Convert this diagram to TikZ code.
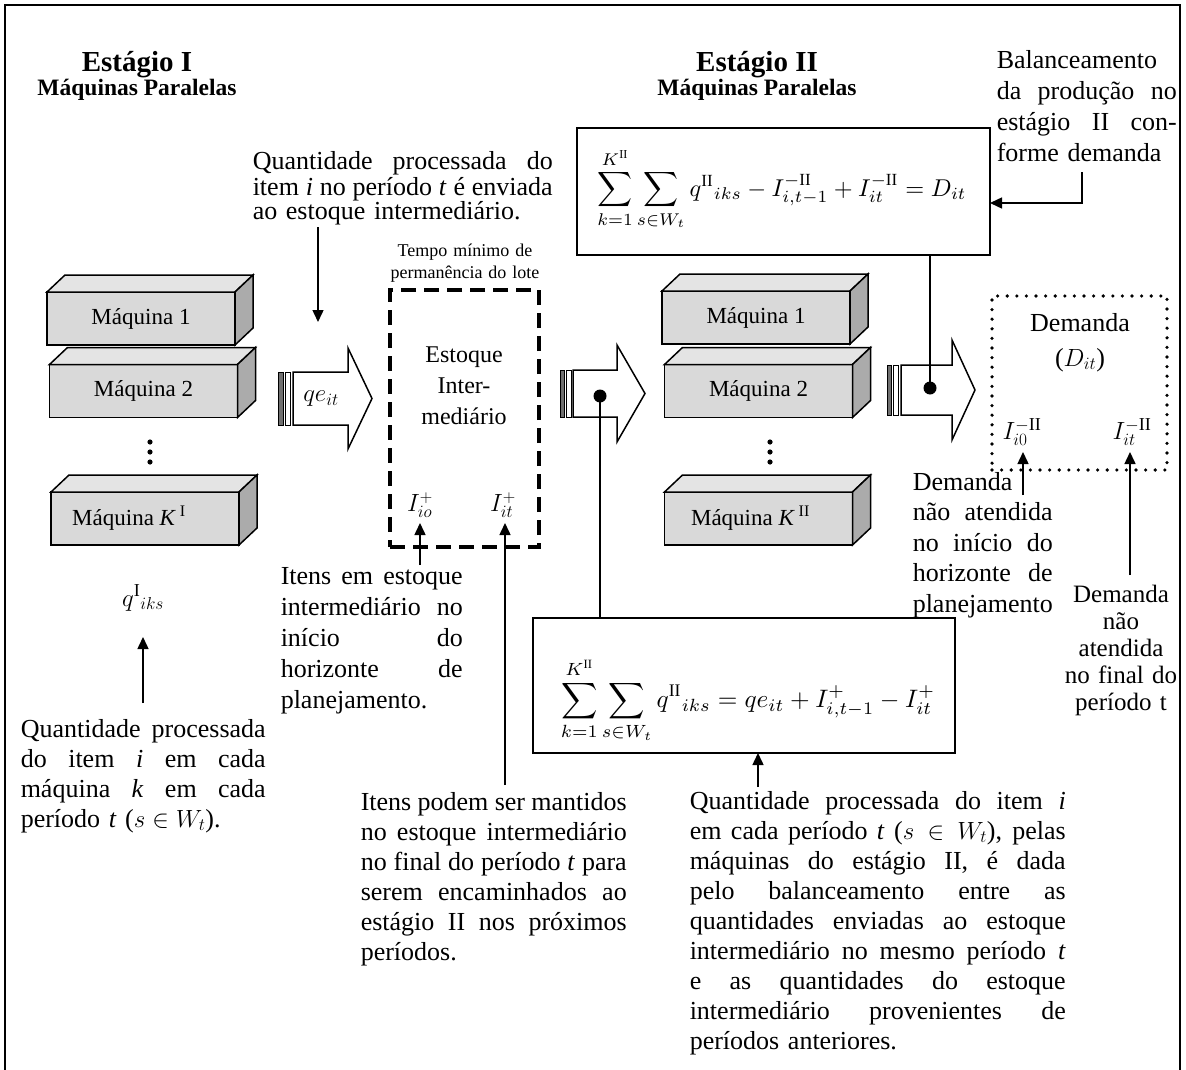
\documentclass[tikz,border=0pt]{standalone}
\usepackage{fontspec}
\setmainfont{Liberation Serif}
\usetikzlibrary{arrows.meta,calc}
\definecolor{frontgray}{HTML}{D9D9D9}
\definecolor{topgray}{HTML}{E4E4E4}
\definecolor{sidegray}{HTML}{ABABAB}
\definecolor{bargray}{HTML}{707070}
% font size with fixed line pitch
\newcommand{\fs}[2]{\fontsize{#1}{#2}\selectfont\lineskiplimit=-50pt\relax}
% one justified line of a paragraph (interword glue of the font, stretched)
\newcommand{\jl}[1]{\makebox[\linewidth][s]{\spaceskip=0pt\xspaceskip=0pt\relax #1}\\}
% top and side faces of a machine block
\newcommand{\machinefaces}[1]{%
  \filldraw[fill=topgray] (#1.north west) -- ++(18,-17) -- ([shift={(18,-17)}]#1.north east) -- (#1.north east) -- cycle;
  \filldraw[fill=sidegray] (#1.north east) -- ++(18,-17) -- ([shift={(18,-17)}]#1.south east) -- (#1.south east) -- cycle;}
\begin{document}
\begin{tikzpicture}[x=1pt,y=-1pt,line width=1.5pt,
  machine/.style={draw,fill=frontgray,minimum width=188pt,minimum height=53pt,inner sep=0pt,outer sep=0pt,font=\fs{23}{27}},
  para/.style={inner sep=0pt,anchor=base west,align=left,font=\fs{26}{30}},
  ctext/.style={inner sep=0pt,anchor=base,align=center},
  mlabel/.style={inner sep=0pt,font=\fs{26}{30}},
  conn/.style={-{Triangle[length=12pt,width=11pt]}},
  dotnode/.style={circle,fill=black,inner sep=0pt,minimum size=13pt},
  eqbox/.style={draw,inner sep=0pt,outer sep=0pt},
  bar/.style={line width=1pt}]
\useasboundingbox (0,0) rectangle (1186,1070);
\fill[white] (0,0) rectangle (1186,1070);
% outer frame
\draw (5,1080) -- (5,5) -- (1180,5) -- (1180,1080);

% titles
\node[ctext,font=\bfseries\fs{29}{33}] (t1) at (137,72) {Estágio I};
\node[ctext,font=\bfseries\fs{23.5}{27}] (s1) at (137,96) {Máquinas Paralelas};
\node[ctext,font=\bfseries\fs{29}{33}] (t2) at (757,72) {Estágio II};
\node[ctext,font=\bfseries\fs{23.5}{27}] (s2) at (757,96) {Máquinas Paralelas};

% stage I machines
\node[machine] (ma1) at (141,318.5) {Máquina 1};
\node[machine] (ma2) at (143.5,391) {Máquina 2};
\node[machine] (mak) at (145,518.5) {\hspace*{-32pt}Máquina \textit{K}\,\textsuperscript{I}};
\machinefaces{ma1}\machinefaces{ma2}\machinefaces{mak}
\foreach \yy in {442,452,462} \fill (150,\yy) circle (2.6);

% stage II machines
\node[machine] (mb1) at (756,317.5) {Máquina 1};
\node[machine] (mb2) at (758.5,391) {Máquina 2};
\node[machine] (mbk) at (758.5,518.5) {\hspace*{-16pt}Máquina \textit{K}\,\textsuperscript{II}};
\machinefaces{mb1}\machinefaces{mb2}\machinefaces{mbk}
\foreach \yy in {442,452,462} \fill (770,\yy) circle (2.6);

% block arrow into the buffer
\filldraw[bar,fill=bargray] (278,372) rectangle (283,425);
\filldraw[bar,fill=white] (285,372) rectangle (290,425);
\filldraw[fill=white] (293,372) -- (348,372) -- (348,348) -- (372,398.5) -- (348,449) -- (348,425) -- (293,425) -- cycle;
\node[mlabel] (qe) at (321,398.5) {$qe_{it}$};

% block arrow out of the buffer
\filldraw[bar,fill=bargray] (560,370) rectangle (564,417);
\filldraw[bar,fill=white] (566,370) rectangle (571,417);
\filldraw[fill=white] (573,370) -- (617,370) -- (617,345) -- (645,393.5) -- (617,442) -- (617,417) -- (573,417) -- cycle;
\node[dotnode] (dot2) at (600,396) {};

% block arrow towards the demand
\filldraw[bar,fill=bargray] (887,365) rectangle (891,415);
\filldraw[bar,fill=white] (893,365) rectangle (898,415);
\filldraw[fill=white] (901,365) -- (952,365) -- (952,340) -- (975,390) -- (952,440) -- (952,415) -- (901,415) -- cycle;
\node[dotnode] (dot3) at (930,388) {};

% intermediate buffer
\node[draw,line width=4pt,dash pattern=on 15pt off 8pt,minimum width=149pt,minimum height=257pt,inner sep=0pt] (buf) at (464.5,418.5) {};
\node[ctext,text width=180pt,font=\fs{18}{22}] (tempo) at (465,256) {Tempo mínimo de\\permanência do lote};
\node[ctext,text width=140pt,font=\fs{24}{31}] (etxt) at (464,362) {Estoque\\Inter-\\mediário};
\node[mlabel] (Iio) at (420,505) {$I^{+}_{io}$};
\node[mlabel] (Iit) at (503,505) {$I^{+}_{it}$};

% demand box
\node[draw,line width=3.6pt,dash pattern=on 0pt off 9.6pt,line cap=round,minimum width=175pt,minimum height=174pt,inner sep=0pt] (dem) at (1079.5,383) {};
\node[ctext,text width=160pt,font=\fs{26}{35}] (dtxt) at (1080,331) {Demanda\\($D_{it}$)};
\node[mlabel] (Ii0d) at (1022,432) {$I^{-\mathrm{II}}_{i0}$};
\node[mlabel] (Iitd) at (1132,432) {$I^{-\mathrm{II}}_{it}$};

% balance equations
\node[eqbox,minimum width=413pt,minimum height=127pt] (equp) at (783.5,191.5) {};
\node[inner sep=0pt] (eq1) at (782,189) {\resizebox{369pt}{!}{$\displaystyle\sum_{k=1}^{K^{\mathrm{II}}}\sum_{s\in W_t} q^{\mathrm{II}}{}_{iks} - I^{-\mathrm{II}}_{i,t-1} + I^{-\mathrm{II}}_{it} = D_{it}$}};
\node[eqbox,minimum width=422pt,minimum height=135pt] (eqlow) at (744,685.5) {};
\node[inner sep=0pt] (eq2) at (748,700) {\resizebox{374pt}{!}{$\displaystyle\sum_{k=1}^{K^{\mathrm{II}}}\sum_{s\in W_t} q^{\mathrm{II}}{}_{iks} = qe_{it} + I^{+}_{i,t-1} - I^{+}_{it}$}};

% text blocks
\node[para,text width=300pt,font=\fs{26}{25}] (ptop) at (252,170)
  {\jl{Quantidade processada do}\jl{item \textit{i} no período \textit{t} é enviada}ao estoque intermediário.};
\node[para,text width=180pt,font=\fs{26}{31}] (pbal) at (996,69)
  {Balanceamento\\\jl{da produção no}\jl{estágio II con-}forme demanda};
\node[ctext,font=\fs{26}{30}] (q1) at (143,606) {$q^{\mathrm{I}}{}_{iks}$};
\node[para,text width=245pt] (pq1) at (20,737)
  {\jl{Quantidade processada}\jl{do item \textit{i} em cada}\jl{máquina \textit{k} em cada}período \textit{t} ($s \in W_t$).};
\node[para,text width=182pt,font=\fs{26}{31}] (pitens) at (280,584)
  {\jl{Itens em estoque}\jl{intermediário no}\jl{início do}\jl{horizonte de}planejamento.};
\node[para,text width=266pt] (pmant) at (360,810)
  {\jl{Itens podem ser mantidos}\jl{no estoque intermediário}\jl{no final do período \textit{t} para}\jl{serem encaminhados ao}\jl{estágio II nos próximos}períodos.};
\node[para,text width=376pt] (pq2) at (689,809)
  {\jl{Quantidade processada do item \textit{i}}\jl{em cada período \textit{t} ($s \in W_t$), pelas}\jl{máquinas do estágio II, é dada}\jl{pelo balanceamento entre as}\jl{quantidades enviadas ao estoque}\jl{intermediário no mesmo período \textit{t}}\jl{e as quantidades do estoque}\jl{intermediário provenientes de}períodos anteriores.};
\node[para,text width=140pt,font=\fs{26}{30.5}] (pdin) at (912,490)
  {Demanda\\\jl{não atendida}\jl{no início do}\jl{horizonte de}planejamento};
\node[ctext,text width=120pt,font=\fs{25}{27}] (pdfim) at (1121,602) {Demanda\\não\\atendida\\no final do\\período t};

% connectors
\coordinate (c1a) at (318,227); \coordinate (c1b) at (318,322);
\draw[conn] (c1a) -- (c1b);
\coordinate (c2a) at (1082,172); \coordinate (c2b) at (equp.east |- 0,203);
\draw[conn] (c2a) |- (c2b);
\draw (dot3.center) -- (dot3.center |- equp.south);
\draw (dot2.center) -- (dot2.center |- eqlow.north);
\coordinate (c3a) at (420,565); \coordinate (c3b) at (420,523);
\draw[conn] (c3a) -- (c3b);
\coordinate (c4a) at (505,785); \coordinate (c4b) at (505,523);
\draw[conn] (c4a) -- (c4b);
\coordinate (c5a) at (143,703); \coordinate (c5b) at (143,637);
\draw[conn] (c5a) -- (c5b);
\coordinate (c6a) at (758,787);
\draw[conn] (c6a) -- (c6a |- eqlow.south);
\coordinate (c7a) at (1023,495); \coordinate (c7b) at (1023,452);
\draw[conn] (c7a) -- (c7b);
\coordinate (c8a) at (1130,575); \coordinate (c8b) at (1130,452);
\draw[conn] (c8a) -- (c8b);
\end{tikzpicture}
\end{document}
